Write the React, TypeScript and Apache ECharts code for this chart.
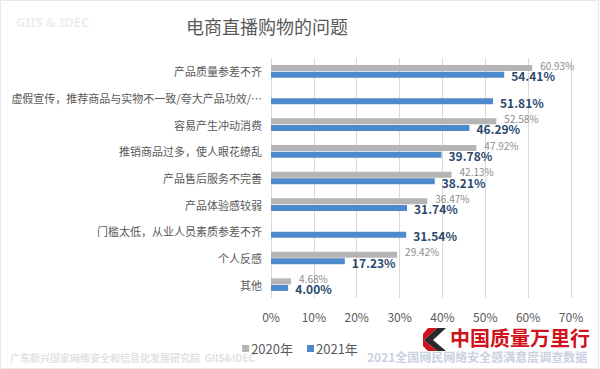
import React, { useEffect, useRef } from "react";
import * as echarts from "echarts";

const categories = [
  "产品质量参差不齐",
  "虚假宣传，推荐商品与实物不一致/夸大产品功效/…",
  "容易产生冲动消费",
  "推销商品过多，使人眼花缭乱",
  "产品售后服务不完善",
  "产品体验感较弱",
  "门槛太低，从业人员素质参差不齐",
  "个人反感",
  "其他",
];
const values2020: (number | null)[] = [60.93, null, 52.58, 47.92, 42.13, 36.47, null, 29.42, 4.68];
const values2021: number[] = [54.41, 51.81, 46.29, 39.78, 38.21, 31.74, 31.54, 17.23, 4.0];
const seriesNames = ["2020年", "2021年"];
const title = "电商直播购物的问题";

const FONT = "'Noto Sans CJK SC', 'Noto Sans', sans-serif";

export default function App() {
  const ref = useRef<HTMLDivElement>(null);
  useEffect(() => {
    if (!ref.current) return;
    const chart = echarts.init(ref.current, null, { renderer: "svg" });
    chart.setOption({
      animation: false,
      backgroundColor: "#ffffff",
      textStyle: { fontFamily: FONT },
      title: {
        text: title,
        left: 262,
        top: 12,
        textAlign: "center",
        textStyle: { fontSize: 18, fontWeight: "normal", color: "#595959", fontFamily: FONT },
      },
      legend: {
        data: seriesNames,
        left: "center",
        top: 337,
        icon: "rect",
        itemWidth: 7,
        itemHeight: 7,
        itemGap: 14,
        textStyle: { fontSize: 13, color: "#595959", fontFamily: FONT, padding: [0, 0, 0, -3] },
      },
      grid: { left: 271, right: 29, top: 58, bottom: 71, containLabel: false },
      xAxis: {
        type: "value",
        min: 0,
        max: 70,
        interval: 10,
        axisLabel: {
          formatter: "{value}%",
          color: "#595959",
          fontSize: 12,
          margin: 12,
          fontFamily: FONT,
        },
        axisLine: { show: false },
        axisTick: { show: false },
        splitLine: { lineStyle: { color: "#d9d9d9", width: 1 } },
      },
      yAxis: {
        type: "category",
        data: categories,
        inverse: true,
        axisLine: { show: true, lineStyle: { color: "#d9d9d9" } },
        axisTick: { show: false },
        axisLabel: { color: "#595959", fontSize: 11, margin: 9, fontFamily: FONT },
      },
      series: [
        {
          name: seriesNames[0],
          type: "bar",
          data: values2020,
          barWidth: 6,
          barGap: "10%",
          itemStyle: { color: "#b4b4b4" },
          label: {
            show: true,
            position: "right",
            distance: 8,
            offset: [0, -3],
            formatter: (p: any) => p.value.toFixed(2) + "%",
            color: "#8c8c8c",
            fontSize: 10,
            fontFamily: FONT,
          },
        },
        {
          name: seriesNames[1],
          type: "bar",
          data: values2021,
          barWidth: 6,
          barGap: "10%",
          itemStyle: { color: "#4d8acb" },
          label: {
            show: true,
            position: "right",
            distance: 7,
            offset: [0, 1],
            formatter: (p: any) => p.value.toFixed(2) + "%",
            color: "#2c4a6e",
            fontSize: 12,
            fontWeight: "bold",
            fontFamily: FONT,
          },
        },
      ],
      graphic: [
        {
          type: "rect",
          shape: { x: 0.5, y: 0.5, width: 598, height: 368 },
          style: { fill: "none", stroke: "#e8e8e8", lineWidth: 1 },
          silent: true,
        },
        {
          type: "text",
          left: 16,
          top: 15,
          style: { text: "GIIS & IDEC", fill: "#eeeeee", font: "bold 13px 'Noto Sans', sans-serif" },
        },
        {
          type: "text",
          left: 10,
          top: 352,
          style: {
            text: "广东新兴国家网络安全和信息化发展研究院  GIIS&IDEC",
            fill: "#e2e2e2",
            font: "bold 10px 'Noto Sans CJK SC', sans-serif",
          },
        },
        {
          type: "text",
          left: 367,
          top: 350,
          style: {
            text: "2021全国网民网络安全感满意度调查数据",
            fill: "#c9d2de",
            font: "bold 12px 'Noto Sans CJK SC', sans-serif",
          },
        },
        {
          type: "polygon",
          shape: { points: [[437, 328], [446, 328], [433, 340], [446, 351], [437, 351], [424, 340]] },
          style: { fill: "#2a2a2a" },
        },
        {
          type: "polygon",
          shape: { points: [[428, 328], [437, 328], [424, 340], [437, 351], [428, 351], [423, 346], [423, 334]] },
          style: { fill: "#d0121b" },
        },
        {
          type: "text",
          left: 450,
          top: 327,
          style: {
            text: "中国质量万里行",
            fill: "#d0121b",
            font: "bold 20px 'Noto Sans CJK SC', sans-serif",
          },
        },
      ],
    });
    return () => chart.dispose();
  }, []);
  return <div ref={ref} style={{ width: 600, height: 369, position: "absolute", left: 0, top: 0 }} />;
}
